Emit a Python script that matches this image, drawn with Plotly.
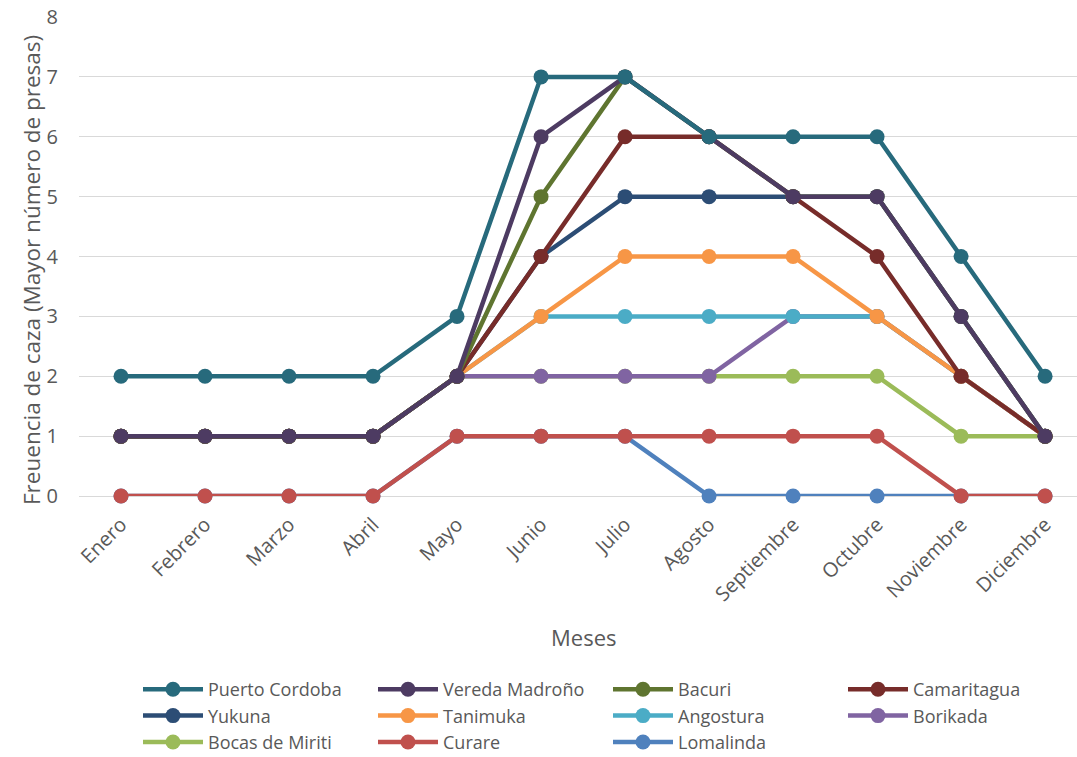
import plotly.graph_objects as go

months = ["Enero", "Febrero", "Marzo", "Abril", "Mayo", "Junio", "Julio",
          "Agosto", "Septiembre", "Octubre", "Noviembre", "Diciembre"]

series_names = ["Puerto Cordoba", "Vereda Madroño", "Bacuri", "Camaritagua",
                "Yukuna", "Tanimuka", "Angostura", "Borikada",
                "Bocas de Miriti", "Curare", "Lomalinda"]

puerto_cordoba = [2, 2, 2, 2, 3, 7, 7, 6, 6, 6, 4, 2]
vereda_madrono = [1, 1, 1, 1, 2, 6, 7, 6, 5, 5, 3, 1]
bacuri = [1, 1, 1, 1, 2, 5, 7, 6, 5, 5, 3, 1]
camaritagua = [1, 1, 1, 1, 2, 4, 6, 6, 5, 4, 2, 1]
yukuna = [1, 1, 1, 1, 2, 4, 5, 5, 5, 5, 3, 1]
tanimuka = [1, 1, 1, 1, 2, 3, 4, 4, 4, 3, 2, 1]
angostura = [1, 1, 1, 1, 2, 3, 3, 3, 3, 3, 2, 1]
borikada = [1, 1, 1, 1, 2, 2, 2, 2, 3, 3, 2, 1]
bocas_de_miriti = [1, 1, 1, 1, 2, 2, 2, 2, 2, 2, 1, 1]
curare = [0, 0, 0, 0, 1, 1, 1, 1, 1, 1, 0, 0]
lomalinda = [0, 0, 0, 0, 1, 1, 1, 0, 0, 0, 0, 0]

values = [puerto_cordoba, vereda_madrono, bacuri, camaritagua, yukuna,
          tanimuka, angostura, borikada, bocas_de_miriti, curare, lomalinda]

colors = ["#276A7C", "#4D3B62", "#5F7530", "#772C2A", "#2C4D75", "#F79646",
          "#4BACC6", "#8064A2", "#9BBB59", "#C0504D", "#4F81BD"]

FONT = "Open Sans"
TXT = "#595959"

fig = go.Figure()
# draw in reverse so earlier series sit on top (as in the reference)
for i in reversed(range(len(series_names))):
    fig.add_trace(go.Scatter(
        x=months, y=values[i], name=series_names[i], mode="lines+markers",
        line=dict(color=colors[i], width=4.5),
        marker=dict(color=colors[i], size=15),
        legendrank=i + 1, cliponaxis=False,
    ))

W, H = 1077, 757
ml, mr, mt, mb = 79, 0, 17, 261
PH = H - mt - mb
PW = W - ml - mr

fig.update_layout(
    width=W, height=H,
    margin=dict(l=ml, r=mr, t=mt, b=mb, autoexpand=False),
    paper_bgcolor="white", plot_bgcolor="white",
    font=dict(family=FONT, color=TXT, size=18),
    showlegend=True,
    legend=dict(
        orientation="h", x=(138 - ml) / PW, xanchor="left",
        y=-(671 - (H - mb)) / PH, yanchor="top",
        entrywidthmode="pixels", entrywidth=160, itemwidth=60,
        font=dict(family=FONT, size=18, color=TXT),
        tracegroupgap=0, traceorder="normal",
    ),
    xaxis=dict(
        type="category", range=[-0.5, 11.38], automargin=False,
        showgrid=False, showline=False, zeroline=False,
        tickangle=-45, tickfont=dict(size=20, color=TXT),
        ticks="outside", ticklen=8, tickcolor="rgba(0,0,0,0)",
    ),
    yaxis=dict(
        range=[0, 8], dtick=1, showgrid=True, gridcolor="#D9D9D9", gridwidth=1.3,
        zeroline=True, zerolinecolor="#D9D9D9", zerolinewidth=1.3, automargin=False,
        showline=False, tickfont=dict(size=20, color=TXT),
        ticks="outside", ticklen=16, tickcolor="rgba(0,0,0,0)",
    ),
    annotations=[
        dict(text="Freuencia de caza (Mayor número de presas)", textangle=-90,
             xref="paper", yref="paper", x=-(ml - 31) / PW,
             y=1 - (270 - mt) / PH,
             xanchor="center", yanchor="middle", showarrow=False,
             font=dict(size=22.5, color=TXT, family=FONT)),
        dict(text="Meses", xref="paper", yref="paper",
             x=(583 - ml) / PW, y=-(637 - (H - mb)) / PH,
             xanchor="center", yanchor="middle", showarrow=False,
             font=dict(size=22, color=TXT, family=FONT)),
    ],
)

fig.write_html("out.html")
